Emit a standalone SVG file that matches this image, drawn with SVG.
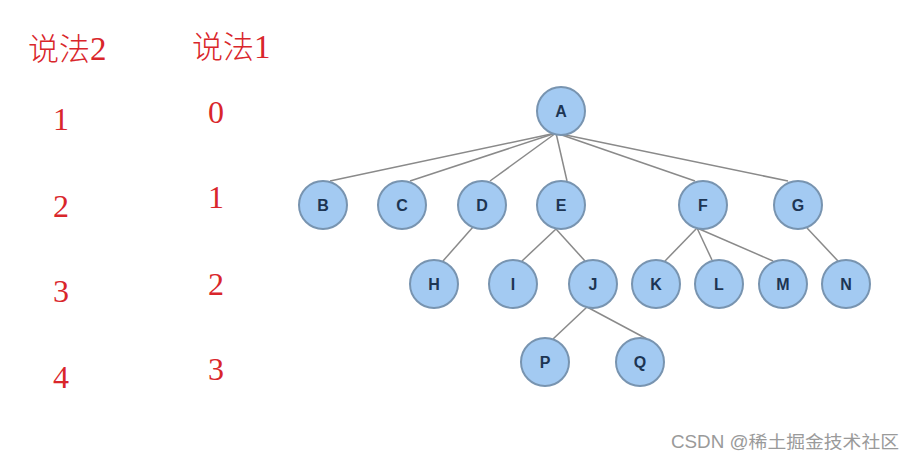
<svg xmlns="http://www.w3.org/2000/svg" width="917" height="462" viewBox="0 0 917 462">
<style>
.lbl{font-family:"Liberation Serif","Noto Sans CJK SC",serif;font-size:32px;fill:#d9262b;text-anchor:middle}
.cj{font-family:"Noto Sans CJK SC",serif;font-size:31px;fill:#d9262b;font-weight:300}
.n circle{fill:#a3caf2;stroke:#7894b0;stroke-width:2}
.n text{font-family:"Liberation Sans",Arial,sans-serif;font-weight:bold;font-size:16px;fill:#1d3553;text-anchor:middle}
.e line{stroke:#8a8a8a;stroke-width:1.5}
.wm{font-family:"Liberation Sans","Noto Sans CJK SC",sans-serif;font-size:17.5px;fill:#9a9a9a}
</style>
<rect width="917" height="462" fill="#fff"/>
<g id="labels">
<text class="cj" x="28" y="60">说法<tspan font-family="Liberation Serif" font-size="33">2</tspan></text>
<text class="cj" x="192" y="58">说法<tspan font-family="Liberation Serif" font-size="33">1</tspan></text>
<text class="lbl" x="61" y="130">1</text>
<text class="lbl" x="61" y="217">2</text>
<text class="lbl" x="61" y="302">3</text>
<text class="lbl" x="61" y="388">4</text>
<text class="lbl" x="216" y="123">0</text>
<text class="lbl" x="216" y="208">1</text>
<text class="lbl" x="216" y="295">2</text>
<text class="lbl" x="216" y="380">3</text>
</g>
<g id="connectors" class="e">
<line x1="556" y1="133" x2="330" y2="181"/>
<line x1="556" y1="133" x2="410" y2="181"/>
<line x1="556" y1="133" x2="490" y2="181"/>
<line x1="556" y1="133" x2="567" y2="181"/>
<line x1="556" y1="133" x2="695" y2="181"/>
<line x1="556" y1="133" x2="788" y2="181"/>
<line x1="473" y1="227" x2="443" y2="261"/>
<line x1="556" y1="229" x2="522" y2="261"/>
<line x1="556" y1="229" x2="585" y2="261"/>
<line x1="697" y1="228" x2="665" y2="261"/>
<line x1="697" y1="228" x2="712" y2="260"/>
<line x1="697" y1="228" x2="773" y2="261"/>
<line x1="807" y1="228" x2="838" y2="261"/>
<line x1="587" y1="307" x2="553" y2="339"/>
<line x1="587" y1="307" x2="647" y2="339"/>
</g>
<g id="node-A" class="n"><circle cx="561" cy="111" r="24"/><text x="561" y="117">A</text></g>
<g id="node-B" class="n"><circle cx="323" cy="205" r="24"/><text x="323" y="211">B</text></g>
<g id="node-C" class="n"><circle cx="402" cy="205" r="24"/><text x="402" y="211">C</text></g>
<g id="node-D" class="n"><circle cx="482" cy="205" r="24"/><text x="482" y="211">D</text></g>
<g id="node-E" class="n"><circle cx="561" cy="205" r="24"/><text x="561" y="211">E</text></g>
<g id="node-F" class="n"><circle cx="703" cy="205" r="24"/><text x="703" y="211">F</text></g>
<g id="node-G" class="n"><circle cx="798" cy="205" r="24"/><text x="798" y="211">G</text></g>
<g id="node-H" class="n"><circle cx="434" cy="284" r="24"/><text x="434" y="290">H</text></g>
<g id="node-I" class="n"><circle cx="513" cy="284" r="24"/><text x="513" y="290">I</text></g>
<g id="node-J" class="n"><circle cx="593" cy="284" r="24"/><text x="593" y="290">J</text></g>
<g id="node-K" class="n"><circle cx="656" cy="284" r="24"/><text x="656" y="290">K</text></g>
<g id="node-L" class="n"><circle cx="719" cy="284" r="24"/><text x="719" y="290">L</text></g>
<g id="node-M" class="n"><circle cx="783" cy="284" r="24"/><text x="783" y="290">M</text></g>
<g id="node-N" class="n"><circle cx="846" cy="284" r="24"/><text x="846" y="290">N</text></g>
<g id="node-P" class="n"><circle cx="545" cy="362" r="24"/><text x="545" y="368">P</text></g>
<g id="node-Q" class="n"><circle cx="640" cy="362" r="24"/><text x="640" y="368">Q</text></g>
<text class="wm" x="671" y="448" textLength="228" lengthAdjust="spacingAndGlyphs">CSDN @稀土掘金技术社区</text>
</svg>
